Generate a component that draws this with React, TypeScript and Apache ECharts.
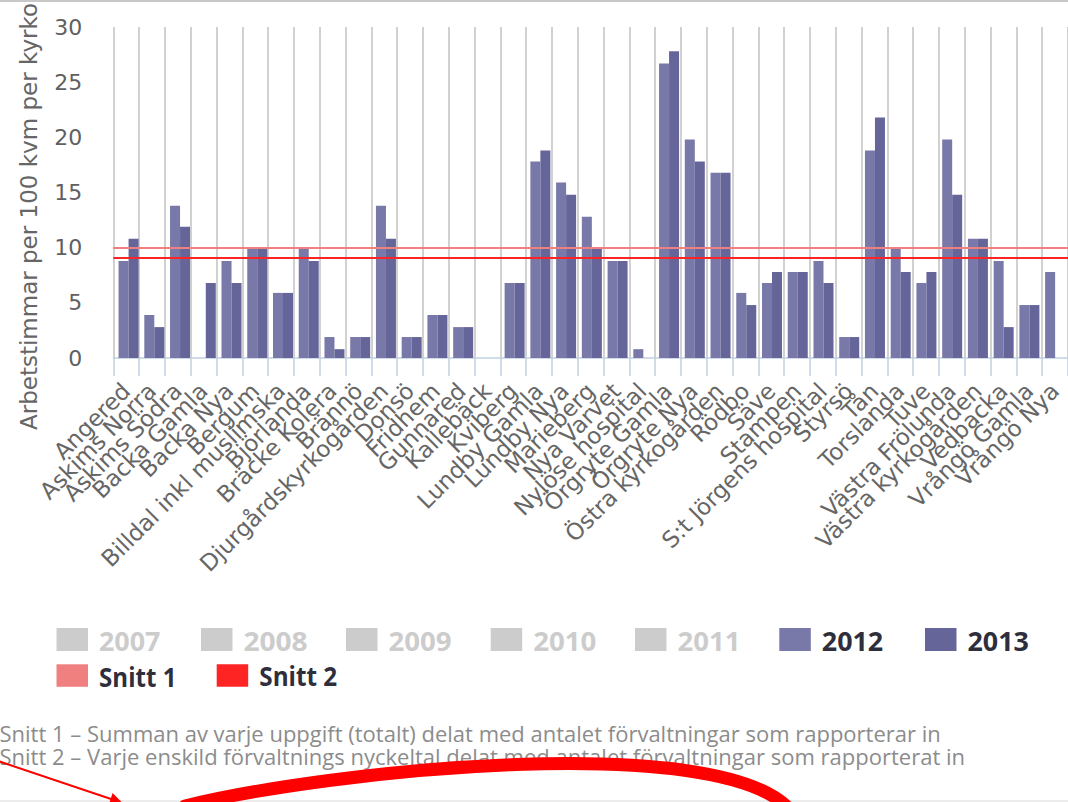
import React, { useEffect, useRef } from "react";
import * as echarts from "echarts";

const categories = [
  "Angered", "Askims Norra", "Askims Södra", "Backa Gamla", "Backa Nya", "Bergum",
  "Billdal inkl muslimska", "Björlanda", "Bräcke Kolera", "Brännö", "Djurgårdskyrkogården",
  "Donsö", "Fridhem", "Gunnared", "Kallebäck", "Kviberg", "Lundby Gamla", "Lundby Nya",
  "Marieberg", "Nya Varvet", "Nylöse hospital", "Örgryte Gamla", "Örgryte Nya",
  "Östra kyrkogården", "Rödbo", "Säve", "Stampen", "S:t Jörgens hospital", "Styrsö", "Tån",
  "Torslanda", "Tuve", "Västra Frölunda", "Västra kyrkogården", "Vedbacka", "Vrångö Gamla",
  "Vrångö Nya",
];

const values2012 = [
  8.8, 3.9, 13.8, null, 8.8, 9.95, 5.9, 9.95, 1.9, 1.9, 13.8, 1.9, 3.9, 2.8, null, 6.8,
  17.8, 15.9, 12.8, 8.8, 0.8, 26.7, 19.8, 16.8, 5.9, 6.8, 7.8, 8.8, 1.9, 18.8, 9.95, 6.8,
  19.8, 10.8, 8.8, 4.8, 7.8,
];

const values2013 = [
  10.8, 2.8, 11.9, 6.8, 6.8, 9.95, 5.9, 8.8, 0.8, 1.9, 10.8, 1.9, 3.9, 2.8, null, 6.8,
  18.8, 14.8, 9.95, 8.8, null, 27.8, 17.8, 16.8, 4.8, 7.8, 7.8, 6.8, 1.9, 21.8, 7.8, 7.8,
  14.8, 10.8, 2.8, 4.8, null,
];

const snitt1Value = 9.95;
const snitt2Value = 9.05;

const yMin = 0;
const yMax = 30;
const yInterval = 5;

const yAxisTitle = "Arbetstimmar per 100 kvm per kyrko";

const legendYears = ["2007", "2008", "2009", "2010", "2011", "2012", "2013"];
const activeYears = ["2012", "2013"];
const legendSnitt = ["Snitt 1", "Snitt 2"];

const notes = [
  "Snitt 1 – Summan av varje uppgift (totalt) delat med antalet förvaltningar som rapporterar in",
  "Snitt 2 – Varje enskild förvaltnings nyckeltal delat med antalet förvaltningar som rapporterat in",
];

// styles / layout
const COLOR_2012 = "#7878a9";
const COLOR_2013 = "#65659a";
const COLOR_SNITT1 = "#f08080";
const COLOR_SNITT2 = "#ff2424";
const INACTIVE = "#cccccc";
const AXIS_FONT = "DejaVu Sans";
const UI_FONT = "Open Sans";

const yearColors: Record<string, string> = { "2012": COLOR_2012, "2013": COLOR_2013 };
const snittColors: Record<string, string> = { "Snitt 1": COLOR_SNITT1, "Snitt 2": COLOR_SNITT2 };

const GRID_LEFT = 113.3;
const GRID_TOP = 27;
const GRID_HEIGHT = 331;
const SLOT = 25.83;
const GRID_WIDTH = SLOT * 37;
const BAR_SHIFT = 2.4;

let measureCtx: CanvasRenderingContext2D | null = null;
function fitText(text: string, font: string, targetInk: number) {
  if (!measureCtx) measureCtx = document.createElement("canvas").getContext("2d");
  const ctx = measureCtx as CanvasRenderingContext2D;
  ctx.font = font;
  const m = ctx.measureText(text);
  const ink = (m.actualBoundingBoxLeft || 0) + (m.actualBoundingBoxRight || m.width);
  const s = ink > 0 ? targetInk / ink : 1;
  return { s, offset: (m.actualBoundingBoxLeft || 0) * s };
}

export default function App() {
  const ref = useRef<HTMLDivElement>(null);

  useEffect(() => {
    document.body.style.margin = "0";
    if (!ref.current) return;
    const chart = echarts.init(ref.current, undefined, { renderer: "svg" });

    const graphics: any[] = [];

    // top border line
    graphics.push({
      type: "line",
      shape: { x1: 0, y1: 1, x2: 1068, y2: 1 },
      style: { stroke: "#c8c8c8", lineWidth: 2 },
      silent: true,
    });
    // bottom faint line
    graphics.push({
      type: "line",
      shape: { x1: 0, y1: 801, x2: 1068, y2: 801 },
      style: { stroke: "#e6e6e6", lineWidth: 1.5 },
      silent: true,
    });

    // y-axis title
    graphics.push({
      type: "text",
      x: 29,
      y: 430,
      rotation: Math.PI / 2,
      style: {
        text: yAxisTitle,
        fill: "#666666",
        fontSize: 23,
        fontFamily: AXIS_FONT,
        textAlign: "left",
        textVerticalAlign: "middle",
      },
      silent: true,
    });

    // legend (Highcharts-like)
    const yearRectLeft = [56.5, 201, 346, 490.7, 635, 779.3, 925];
    const yearInk = [60, 62.7, 61.7, 61.7, 58.4, 60, 60];
    const legendFontSize = 27;
    const legendFont = `bold ${legendFontSize}px "${UI_FONT}"`;
    legendYears.forEach((name, i) => {
      const active = activeYears.includes(name);
      const x0 = yearRectLeft[i];
      graphics.push({
        type: "rect",
        shape: { x: x0, y: 628, width: 31.5, height: 23 },
        style: { fill: active ? yearColors[name] : INACTIVE },
        silent: true,
      });
      const f = fitText(name, legendFont, yearInk[i]);
      graphics.push({
        type: "text",
        x: x0 + 43.5 + f.offset,
        y: 640.5,
        scaleX: f.s,
        style: {
          text: name,
          fill: active ? "#2e2e3c" : INACTIVE,
          fontSize: legendFontSize,
          fontWeight: "bold",
          fontFamily: UI_FONT,
          textAlign: "left",
          textVerticalAlign: "middle",
        },
        silent: true,
      });
    });
    const snittRectLeft = [56.5, 216.7];
    const snittInk = [73.3, 76.7];
    legendSnitt.forEach((name, i) => {
      const x0 = snittRectLeft[i];
      graphics.push({
        type: "rect",
        shape: { x: x0, y: 664.3, width: 31.5, height: 22.5 },
        style: { fill: snittColors[name] },
        silent: true,
      });
      const f = fitText(name, legendFont, snittInk[i]);
      graphics.push({
        type: "text",
        x: x0 + 43.5 + f.offset,
        y: 676.5,
        scaleX: f.s,
        style: {
          text: name,
          fill: "#2e2e3c",
          fontSize: legendFontSize,
          fontWeight: "bold",
          fontFamily: UI_FONT,
          textAlign: "left",
          textVerticalAlign: "middle",
        },
        silent: true,
      });
    });

    // notes
    const noteFontSize = 21;
    const noteFont = `${noteFontSize}px "${UI_FONT}"`;
    const noteInk = [940, 964];
    const noteY = [733.5, 756.8];
    notes.forEach((t, i) => {
      const f = fitText(t, noteFont, noteInk[i]);
      graphics.push({
        type: "text",
        x: 0.5 + f.offset,
        y: noteY[i],
        scaleX: f.s,
        style: {
          text: t,
          fill: "#8c8c8c",
          fontSize: noteFontSize,
          fontFamily: UI_FONT,
          textAlign: "left",
          textVerticalAlign: "middle",
        },
        silent: true,
      });
    });

    // hand-drawn red annotation: arrow + arc
    graphics.push({
      type: "line",
      shape: { x1: -2, y1: 761, x2: 114, y2: 800 },
      style: { stroke: "#ff0000", lineWidth: 2 },
      silent: true,
    });
    graphics.push({
      type: "polygon",
      shape: { points: [[123, 803.5], [108.8, 804.5], [112.6, 793.1]] },
      style: { fill: "#ff0000" },
      silent: true,
    });
    graphics.push({
      type: "bezierCurve",
      shape: { x1: 185, y1: 806, x2: 790, y2: 810, cpx1: 330, cpy1: 770, cpx2: 720, cpy2: 730 },
      style: { stroke: "#ff0000", lineWidth: 13, fill: null, lineCap: "round" },
      silent: true,
    });

    const option: any = {
      animation: false,
      backgroundColor: "#ffffff",
      grid: [
        { left: GRID_LEFT, top: GRID_TOP, width: GRID_WIDTH, height: GRID_HEIGHT },
        { left: GRID_LEFT + BAR_SHIFT, top: GRID_TOP, width: GRID_WIDTH, height: GRID_HEIGHT },
      ],
      xAxis: [
        {
          type: "category",
          gridIndex: 0,
          data: categories,
          boundaryGap: true,
          axisLine: { show: true, lineStyle: { color: "#c0d0e0", width: 1.5 } },
          axisTick: { show: true, interval: 0, length: 18, lineStyle: { color: "#c0d0e0", width: 1.5 } },
          splitLine: { show: true, interval: 0, lineStyle: { color: "#c6c6c6", width: 1.6 } },
          axisLabel: {
            interval: 0,
            rotate: 45,
            margin: 29,
            color: "#666666",
            fontSize: 23,
            fontFamily: AXIS_FONT,
          },
          z: 1,
        },
        {
          type: "category",
          gridIndex: 1,
          data: categories,
          show: false,
        },
      ],
      yAxis: [
        {
          type: "value",
          gridIndex: 0,
          min: yMin,
          max: yMax,
          interval: yInterval,
          splitLine: { show: false },
          axisLine: { show: false },
          axisTick: { show: false },
          axisLabel: { color: "#606060", fontSize: 22, fontFamily: AXIS_FONT, margin: 31 },
        },
        {
          type: "value",
          gridIndex: 1,
          min: yMin,
          max: yMax,
          interval: yInterval,
          show: false,
          splitLine: { show: false },
        },
      ],
      series: [
        {
          name: "2012",
          type: "bar",
          xAxisIndex: 1,
          yAxisIndex: 1,
          data: values2012,
          barWidth: 10,
          barGap: "0%",
          itemStyle: { color: COLOR_2012 },
          z: 2,
        },
        {
          name: "2013",
          type: "bar",
          xAxisIndex: 1,
          yAxisIndex: 1,
          data: values2013,
          barWidth: 10,
          barGap: "0%",
          itemStyle: { color: COLOR_2013 },
          z: 2,
        },
        {
          name: "Snitt 1",
          type: "line",
          xAxisIndex: 0,
          yAxisIndex: 0,
          data: [],
          z: 5,
          markLine: {
            silent: true,
            symbol: "none",
            label: { show: false },
            lineStyle: { color: COLOR_SNITT1, width: 2, type: "solid" },
            data: [{ yAxis: snitt1Value }],
          },
        },
        {
          name: "Snitt 2",
          type: "line",
          xAxisIndex: 0,
          yAxisIndex: 0,
          data: [],
          z: 5,
          markLine: {
            silent: true,
            symbol: "none",
            label: { show: false },
            lineStyle: { color: COLOR_SNITT2, width: 2, type: "solid" },
            data: [{ yAxis: snitt2Value }],
          },
        },
      ],
      graphic: graphics,
    };

    chart.setOption(option);
    return () => {
      chart.dispose();
    };
  }, []);

  return (
    <div
      ref={ref}
      style={{ position: "absolute", left: 0, top: 0, width: 1068, height: 802, background: "#fff" }}
    />
  );
}
